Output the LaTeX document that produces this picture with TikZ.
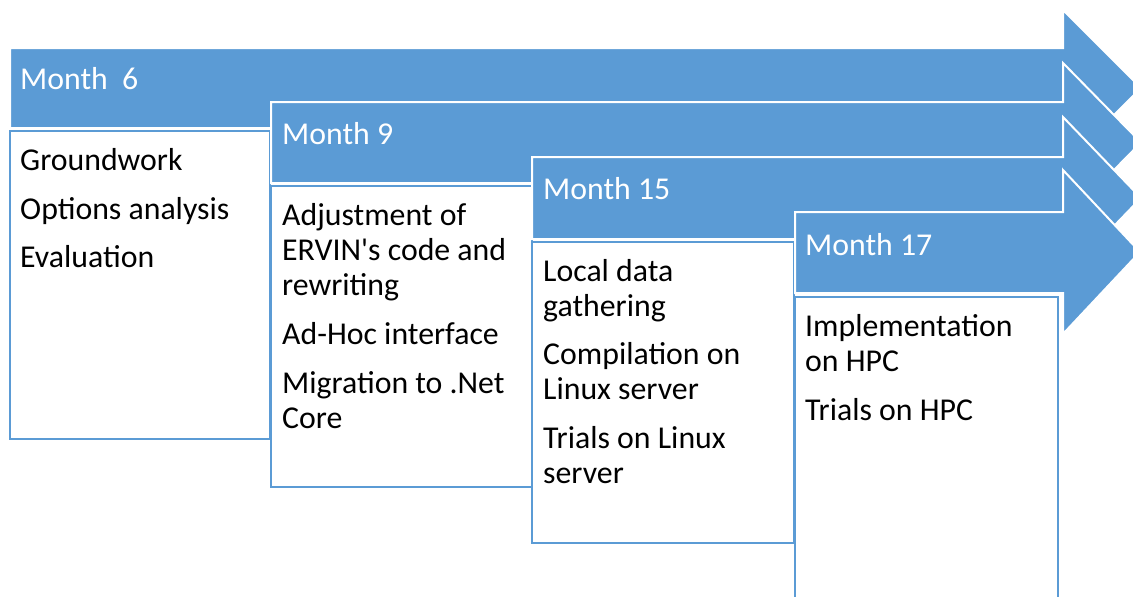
\documentclass[tikz,border=0pt]{standalone}
\usepackage{fontspec}
\setmainfont{Carlito}[Ligatures=TeXOff]
\definecolor{accent}{HTML}{5B9BD5}
\begin{document}
\begin{tikzpicture}[x=1pt,y=-1pt,
  arrowshape/.style={fill=accent,draw=white,line width=2pt,line join=miter},
  itembox/.style={fill=white,draw=accent,line width=2pt},
  monthlabel/.style={anchor=base west,inner sep=0pt,text=white,font=\fontsize{31.8}{37}\selectfont},
  itemtext/.style={anchor=base west,inner sep=0pt,text=black,align=left,font=\fontsize{31.8}{35}\selectfont}]
\useasboundingbox (0,0) rectangle (1133,597);
% Month 6
\draw[arrowshape] (10,48) -- (1063,48) -- (1063,10) -- (1141,88) -- (1063,166) -- (1063,128) -- (10,128) -- cycle;
\draw[itembox] (10,131) rectangle (270,439);
\node[monthlabel] (m6) at (20,89) {Month\ \ 6};
\node[itemtext] (g1) at (20,170) {Groundwork};
\node[itemtext] (g2) at (20,219) {Options analysis};
\node[itemtext] (g3) at (20,267) {Evaluation};
% Month 9
\draw[arrowshape] (271,102) -- (1063,102) -- (1063,63) -- (1141,142.5) -- (1063,222) -- (1063,183) -- (271,183) -- cycle;
\draw[itembox] (271,186) rectangle (532,487);
\node[monthlabel] (m9) at (282,144) {Month 9};
% multi-line nodes: base anchor is the baseline of the last line
\node[itemtext] (a1) at (282,295) {Adjustment of\\ERVIN's code and\\rewriting};
\node[itemtext] (a2) at (282,344) {Ad-Hoc interface};
\node[itemtext] (a3) at (282,428) {Migration to .Net\\Core};
% Month 15
\draw[arrowshape] (532,157) -- (1063,157) -- (1063,117) -- (1141,198) -- (1063,279) -- (1063,239) -- (532,239) -- cycle;
\draw[itembox] (532,242) rectangle (794,543);
\node[monthlabel] (m15) at (543,199) {Month 15};
\node[itemtext] (l1) at (543,316) {Local data\\gathering};
\node[itemtext] (l2) at (543,399) {Compilation on\\Linux server};
\node[itemtext] (l3) at (543,483) {Trials on Linux\\server};
% Month 17
\draw[arrowshape] (795,212) -- (1063,212) -- (1063,170) -- (1140,252) -- (1063,334) -- (1063,293) -- (795,293) -- cycle;
\draw[itembox] (795,297) rectangle (1058,620);
\node[monthlabel] (m17) at (805,255) {Month 17};
\node[itemtext] (h1) at (805,371) {Implementation\\on HPC};
\node[itemtext] (h2) at (805,420) {Trials on HPC};
\end{tikzpicture}
\end{document}
